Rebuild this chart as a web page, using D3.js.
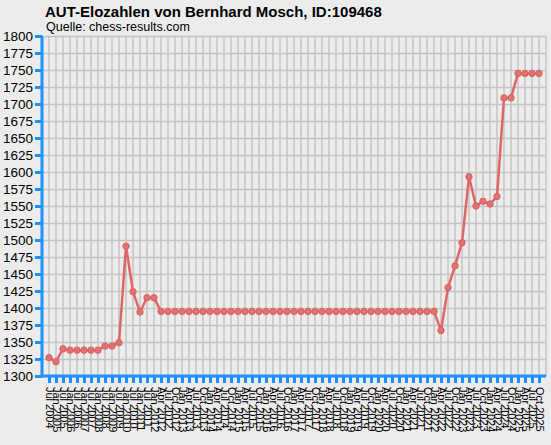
<!DOCTYPE html>
<html>
<head>
<meta charset="utf-8">
<script src="https://cdn.jsdelivr.net/npm/d3@7"></script>
<style>
  body { margin: 0; background: #ececec; }
  svg { display: block; font-family: "Liberation Sans", Arial, sans-serif; }
</style>
</head>
<body>
<div class="chart"></div>
<script>
// rating lists: semi-annual until Jan 2012, quarterly afterwards
var halfYearLabels = ["Jul 2004", "Jan 2005", "Jul 2005", "Jan 2006", "Jul 2006", "Jan 2007",
  "Jul 2007", "Jan 2008", "Jul 2008", "Jan 2009", "Jul 2009", "Jan 2010",
  "Jul 2010", "Jan 2011", "Jul 2011", "Jan 2012"];
var quarterYears = [2012, 2013, 2014, 2015, 2016, 2017, 2018, 2019, 2020, 2021, 2022, 2023, 2024, 2025];
var quarterMonths = ["Jan", "Apr", "Jul", "Oct"];

var ratings = [1327, 1321, 1340, 1338, 1338, 1338, 1338, 1338, 1344, 1344, 1349, 1491,
  1424, 1394, 1415, 1415,
  1395, 1395, 1395, 1395, 1395, 1395, 1395, 1395, 1395, 1395, 1395, 1395, 1395, 1395,
  1395, 1395, 1395, 1395, 1395, 1395, 1395, 1395, 1395, 1395, 1395, 1395, 1395, 1395,
  1395, 1395, 1395, 1395, 1395, 1395, 1395, 1395, 1395, 1395, 1395, 1395,
  1367, 1430, 1462, 1496, 1593, 1550, 1557, 1553, 1564, 1709, 1709, 1745, 1745, 1745, 1745];

var yTicks = d3.range(1300, 1801, 25);

// build the label list (Apr 2012 .. Oct 2025)
var labels = halfYearLabels.slice();
quarterYears.forEach(function (y) {
  quarterMonths.forEach(function (m) {
    if (y === 2012 && m === "Jan") return;
    labels.push(m + " " + y);
  });
});

var svgWidth = 551, svgHeight = 445;
var margin = { top: 36, right: 5, bottom: 69, left: 42 };
var width = svgWidth - margin.left - margin.right;
var height = svgHeight - margin.top - margin.bottom;

var svg = d3.select(".chart").append("svg")
  .attr("width", svgWidth)
  .attr("height", svgHeight);

svg.append("text")
  .attr("x", 45).attr("y", 17)
  .style("font-size", "15px").style("font-weight", "bold")
  .text("AUT-Elozahlen von Bernhard Mosch, ID:109468");

svg.append("text")
  .attr("x", 46).attr("y", 31)
  .style("font-size", "12.5px")
  .text("Quelle: chess-results.com");

var g = svg.append("g").attr("transform", `translate(${margin.left}, ${margin.top})`);

var x = d3.scalePoint().domain(labels).range([0, width]).padding(1);
var y = d3.scaleLinear().domain([1300, 1800]).range([height, 0]);

// grid
g.append("g").selectAll("line.h").data(yTicks).enter().append("line")
  .attr("x1", 0).attr("x2", width)
  .attr("y1", d => Math.round(y(d)) + 0.5).attr("y2", d => Math.round(y(d)) + 0.5)
  .attr("stroke", "#c4c4c4").attr("stroke-width", 1.5);

var gridX = labels.map(d => x(d)).concat([width]);
g.append("g").selectAll("line.v").data(gridX).enter().append("line")
  .attr("x1", d => d).attr("x2", d => d)
  .attr("y1", 0).attr("y2", height)
  .attr("stroke", "#c4c4c4").attr("stroke-width", 1.5);

// axes
var leftAxis = d3.axisLeft(y).tickValues(yTicks).tickFormat(d3.format("d")).tickSize(7).tickPadding(2);
var yAx = g.append("g").call(leftAxis);
yAx.select(".domain").attr("stroke", "#1e90ff").attr("stroke-width", 3).attr("d", `M0,0V${height}`);
yAx.selectAll(".tick line").attr("stroke", "#1e90ff").attr("stroke-width", 3);
yAx.selectAll(".tick text").style("font-size", "13.5px").attr("fill", "#000");

var bottomAxis = d3.axisBottom(x).tickSize(7).tickPadding(2);
var xAx = g.append("g").attr("transform", `translate(0, ${height})`).call(bottomAxis);
xAx.select(".domain").attr("stroke", "#1e90ff").attr("stroke-width", 3).attr("d", `M0,0H${width}`);
xAx.selectAll(".tick line").attr("stroke", "#1e90ff").attr("stroke-width", 3);
xAx.selectAll(".tick text")
  .style("font-size", "11px").attr("fill", "#000")
  .attr("text-anchor", "start")
  .attr("transform", "translate(-4, 11) rotate(90)")
  .attr("dy", "0").attr("y", 0).attr("x", 0);

// line and points
var line = d3.line().x((d, i) => x(labels[i])).y(d => y(d));
g.append("path").datum(ratings)
  .attr("d", line)
  .attr("fill", "none")
  .attr("stroke", "#e06666")
  .attr("stroke-width", 2.5);

g.selectAll("circle").data(ratings).enter().append("circle")
  .attr("cx", (d, i) => x(labels[i]))
  .attr("cy", d => y(d))
  .attr("r", 3.2)
  .attr("fill", "#e27272")
  .attr("stroke", "#d86060")
  .attr("stroke-width", 1);
</script>
</body>
</html>
